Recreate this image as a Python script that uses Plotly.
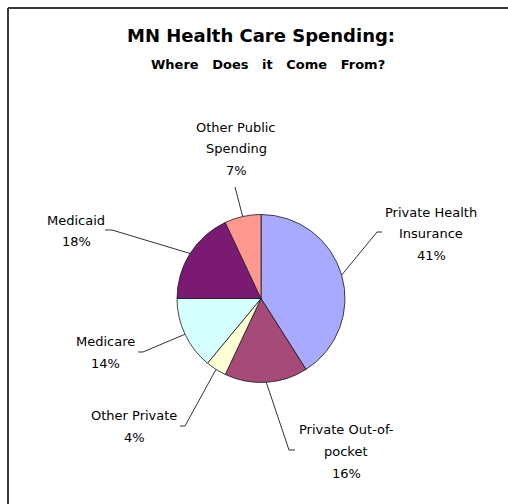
import math
import plotly.graph_objects as go

# Sources of Minnesota health care spending (percent of total)
categories = ["Private Health Insurance", "Private Out-of-pocket", "Other Private",
              "Medicare", "Medicaid", "Other Public Spending"]
label_lines = [["Private Health", "Insurance"], ["Private Out-of-", "pocket"], ["Other Private"],
               ["Medicare"], ["Medicaid"], ["Other Public", "Spending"]]
shares = [41, 16, 4, 14, 18, 7]
colors = ["#A8AAFF", "#A64A78", "#FFFFD6", "#D6FFFF", "#7A1A73", "#FF9990"]

W, H = 508, 504
CX, CY, R = 261, 298.5, 84          # pie centre and radius, in pixels

def px(x):
    return x / W

def py(y):
    return 1 - y / H

# label block layout: centre x, line centres y, leader-line points on the label side
label_layout = [
    dict(x=431, ys=[212, 233, 255], lead=[(382, 232), (377, 232)]),
    dict(x=346, ys=[429, 451, 473], lead=[(295, 450), (289, 450)]),
    dict(x=134, ys=[415, 437], lead=[(180, 426), (185, 426)]),
    dict(x=105, ys=[341, 363], lead=[(138, 352), (143, 352)]),
    dict(x=76, ys=[220, 241], lead=[(105, 230), (112, 230)]),
    dict(x=236, ys=[127, 148, 170], lead=[(235, 187)]),
]

fig = go.Figure(go.Pie(
    labels=categories,
    values=shares,
    sort=False,
    direction="clockwise",
    rotation=0,
    marker=dict(colors=colors, line=dict(color="#1a1a1a", width=0.8)),
    textinfo="none",
    hoverinfo="skip",
    showlegend=False,
    domain=dict(x=[px(CX - R), px(CX + R)], y=[py(CY + R), py(CY - R)]),
))

annotations = []
shapes = []
label_font = dict(family="DejaVu Sans", size=13, color="#000000")
total = sum(shares)
start = 0.0
for name_lines, value, lay in zip(label_lines, shares, label_layout):
    # slice mid-angle, measured clockwise from 12 o'clock
    mid = (start + value / 2) / total * 2 * math.pi
    start += value
    ex = CX + R * math.sin(mid)
    ey = CY - R * math.cos(mid)

    text_rows = name_lines + [f"{value}%"]
    for row, y in zip(text_rows, lay["ys"]):
        annotations.append(dict(
            x=px(lay["x"]), y=py(y), xref="paper", yref="paper",
            text=row, showarrow=False, xanchor="center", yanchor="middle",
            font=label_font,
        ))

    pts = lay["lead"] + [(ex, ey)]
    path = "M " + " L ".join(f"{px(x):.5f},{py(y):.5f}" for x, y in pts)
    shapes.append(dict(type="path", path=path, xref="paper", yref="paper",
                       line=dict(color="#333333", width=1)))

# chart titles
annotations.append(dict(
    x=px(261), y=py(36), xref="paper", yref="paper",
    text="<b>MN Health Care Spending:</b>", showarrow=False,
    xanchor="center", yanchor="middle",
    font=dict(family="DejaVu Sans", size=18, color="#000000"),
))
sp = "\u00a0\u00a0\u00a0"
annotations.append(dict(
    x=px(268), y=py(64), xref="paper", yref="paper",
    text="<b>" + sp.join(["Where", "Does", "it", "Come", "From?"]) + "</b>",
    showarrow=False, xanchor="center", yanchor="middle",
    font=dict(family="DejaVu Sans", size=13, color="#000000"),
))

# chart frame (top and left edges)
frame = dict(color="#3a3a3a", width=2)
shapes.append(dict(type="line", xref="paper", yref="paper",
                   x0=px(8), y0=py(8), x1=px(W), y1=py(8), line=frame))
shapes.append(dict(type="line", xref="paper", yref="paper",
                   x0=px(8), y0=py(8), x1=px(8), y1=py(H), line=frame))

fig.update_layout(
    width=W, height=H,
    margin=dict(l=0, r=0, t=0, b=0),
    paper_bgcolor="white",
    plot_bgcolor="white",
    annotations=annotations,
    shapes=shapes,
)

fig.write_html("out.html")
